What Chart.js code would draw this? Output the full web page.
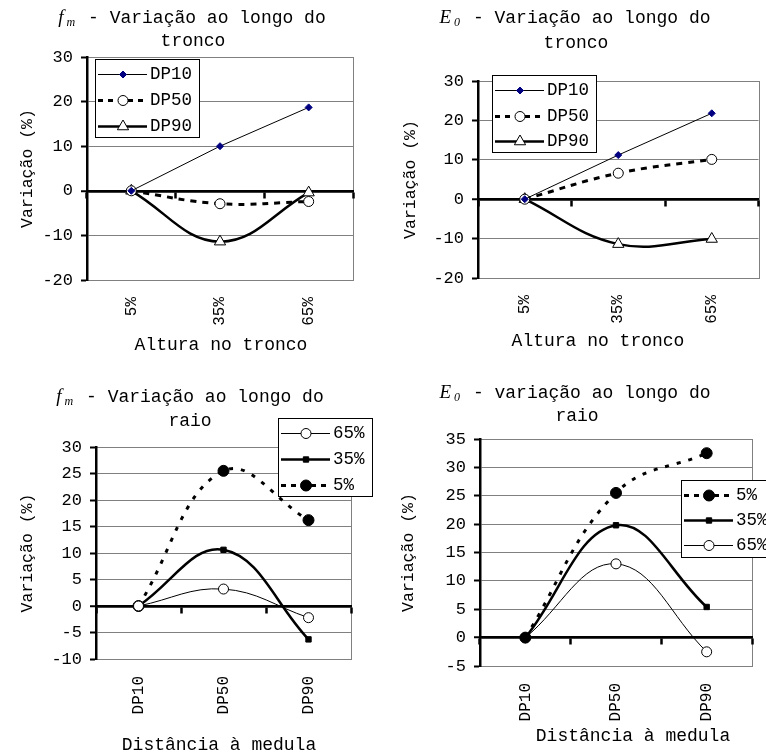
<!DOCTYPE html>
<html lang="pt">
<head>
<meta charset="utf-8">
<title>Variação ao longo do tronco e do raio</title>
<script src="https://cdn.jsdelivr.net/npm/chart.js@4.4.1/dist/chart.umd.min.js"></script>
<style>
  html, body { margin: 0; padding: 0; background: #fff; overflow: hidden; }
  body { position: relative; width: 766px; height: 754px; }
  canvas { position: absolute; }
  .txt { position: absolute; width: 300px; text-align: center; white-space: pre;
         font: 18px "Liberation Mono", monospace; line-height: 25px; color: #000; }
  .txt i { font-family: "Liberation Serif", serif; font-size: 19px; }
  .txt sub { font-family: "Liberation Serif", serif; font-style: italic; font-size: 12px;
             vertical-align: baseline; position: relative; top: 3px; margin: 0 2px 0 3px; }
</style>
</head>
<body>
<canvas id="fmTronco" width="383" height="370" style="left:0;top:0"></canvas>
<canvas id="e0Tronco" width="383" height="370" style="left:383px;top:0"></canvas>
<canvas id="fmRaio" width="383" height="384" style="left:0;top:370px"></canvas>
<canvas id="e0Raio" width="383" height="384" style="left:383px;top:370px"></canvas>

<div class="txt" style="left:42px;top:4px"><i>f</i><sub>m</sub> - Variação ao longo do</div>
<div class="txt" style="left:43px;top:29px">tronco</div>
<div class="txt" style="left:71px;top:333px">Altura no tronco</div>

<div class="txt" style="left:425px;top:4px"><i>E</i><sub>0</sub> - Variação ao longo do</div>
<div class="txt" style="left:426px;top:31px">tronco</div>
<div class="txt" style="left:448px;top:329px">Altura no tronco</div>

<div class="txt" style="left:40px;top:383px"><i>f</i><sub>m</sub> - Variação ao longo do</div>
<div class="txt" style="left:40px;top:409px">raio</div>
<div class="txt" style="left:69px;top:733px">Distância à medula</div>

<div class="txt" style="left:425px;top:379px"><i>E</i><sub>0</sub> - variação ao longo do</div>
<div class="txt" style="left:427px;top:404px">raio</div>
<div class="txt" style="left:483px;top:724px">Distância à medula</div>

<script>
// categorias
var alturas = ['5%', '35%', '65%'];
var distancias = ['DP10', 'DP50', 'DP90'];

// fm ao longo do tronco
var fmTroncoDP10 = [0, 10, 18.7];
var fmTroncoDP50 = [0, -2.9, -2.4];
var fmTroncoDP90 = [0, -11.4, -0.4];

// E0 ao longo do tronco
var e0TroncoDP10 = [0, 11.2, 21.8];
var e0TroncoDP50 = [0, 6.6, 10.1];
var e0TroncoDP90 = [0, -11.4, -10.1];

// fm ao longo do raio
var fmRaio65 = [0, 3.2, -2.2];
var fmRaio35 = [0, 10.6, -6.3];
var fmRaio5 = [0, 25.5, 16.2];

// E0 ao longo do raio
var e0Raio5 = [0, 25.5, 32.5];
var e0Raio35 = [0, 19.8, 5.4];
var e0Raio65 = [0, 13.0, -2.5];

// marcas do eixo y
var ticksTronco = [-20, -10, 0, 10, 20, 30];
var ticksFmRaio = [-10, -5, 0, 5, 10, 15, 20, 25, 30];
var ticksE0Raio = [-5, 0, 5, 10, 15, 20, 25, 30, 35];

Chart.defaults.font.family = '"Liberation Mono", "Courier New", monospace';
Chart.defaults.color = '#000';

var estilos = {
    losango: { borderColor: '#000', borderWidth: 1, tension: 0, pointStyle: 'rectRot', pointRadius: 3.5,
        pointBackgroundColor: '#000080', pointBorderColor: '#000080', pointBorderWidth: 1 },
    circuloTracejado: { borderColor: '#000', borderWidth: 3, borderDash: [6, 6], tension: 0.4, pointStyle: 'circle',
        pointRadius: 5, pointBackgroundColor: '#fff', pointBorderColor: '#000', pointBorderWidth: 1 },
    triangulo: { borderColor: '#000', borderWidth: 2.5, tension: 0.4, pointStyle: 'triangle', pointRadius: 6.5,
        pointBackgroundColor: '#fff', pointBorderColor: '#000', pointBorderWidth: 1 },
    pontoTracejado: { borderColor: '#000', borderWidth: 3, borderDash: [4, 8], tension: 0.4, pointStyle: 'circle',
        pointRadius: 5.5, pointBackgroundColor: '#000', pointBorderColor: '#000', pointBorderWidth: 1 },
    quadrado: { borderColor: '#000', borderWidth: 2.5, tension: 0.4, pointStyle: 'rect', pointRadius: 3.8,
        pointBackgroundColor: '#000', pointBorderColor: '#000', pointBorderWidth: 1 },
    circuloFino: { borderColor: '#000', borderWidth: 1, tension: 0.4, pointStyle: 'circle', pointRadius: 5,
        pointBackgroundColor: '#fff', pointBorderColor: '#000', pointBorderWidth: 1 }
};

function serie(label, data, estilo) {
    return Object.assign({ label: label, data: data }, estilos[estilo]);
}

// caixa cinzenta da área do gráfico
var moldura = {
    id: 'moldura',
    beforeDraw: function (chart) {
        var ctx = chart.ctx, a = chart.chartArea;
        ctx.save();
        ctx.strokeStyle = '#808080';
        ctx.lineWidth = 1;
        ctx.strokeRect(Math.round(a.left) + 0.5, Math.round(a.top) + 0.5,
            Math.round(a.right - a.left), Math.round(a.bottom - a.top));
        ctx.restore();
    }
};

// legenda em caixa, desenhada por cima das linhas
var caixaLegenda = {
    id: 'caixaLegenda',
    afterDatasetsDraw: function (chart, args, opts) {
        var ctx = chart.ctx;
        var x0 = Math.round(opts.left), y0 = Math.round(opts.top);
        ctx.save();
        ctx.fillStyle = '#fff';
        ctx.fillRect(x0, y0, opts.width, opts.height);
        ctx.strokeStyle = '#000';
        ctx.lineWidth = 1;
        ctx.strokeRect(x0 + 0.5, y0 + 0.5, opts.width, opts.height);
        chart.data.datasets.forEach(function (ds, i) {
            var y = Math.round(y0 + 15 + opts.gap * i) + 0.5;
            ctx.beginPath();
            ctx.setLineDash(ds.borderDash ? [5, 5] : []);
            ctx.lineWidth = ds.borderWidth;
            ctx.strokeStyle = ds.borderColor;
            ctx.moveTo(x0 + 3, y);
            ctx.lineTo(x0 + 52, y);
            ctx.stroke();
            ctx.setLineDash([]);
            ctx.fillStyle = ds.pointBackgroundColor;
            ctx.strokeStyle = ds.pointBorderColor;
            ctx.lineWidth = ds.pointBorderWidth;
            Chart.helpers.drawPoint(ctx, {
                pointStyle: ds.pointStyle, radius: ds.pointRadius,
                borderWidth: ds.pointBorderWidth, rotation: 0
            }, x0 + 28, y);
            ctx.fillStyle = '#000';
            ctx.font = '17.5px "Liberation Mono", monospace';
            ctx.textBaseline = 'middle';
            ctx.textAlign = 'left';
            ctx.fillText(ds.label, x0 + 55, y);
        });
        ctx.restore();
    }
};

function painel(id, labels, datasets, marcas, area, legenda) {
    var canvas = document.getElementById(id);
    var padEsq = area.tituloX - 13.9;
    return new Chart(canvas, {
        type: 'line',
        data: { labels: labels, datasets: datasets },
        options: {
            responsive: false,
            animation: false,
            layout: {
                padding: { left: padEsq, top: area.top, right: canvas.width - area.right, bottom: 0 }
            },
            plugins: {
                legend: { display: false },
                tooltip: { enabled: false },
                caixaLegenda: legenda
            },
            scales: {
                x: {
                    type: 'category',
                    offset: true,
                    grid: { display: false },
                    border: { display: false },
                    ticks: { autoSkip: false, maxRotation: 90, minRotation: 90, padding: 9, font: { size: 16 } },
                    afterFit: function (s) { s.height = canvas.height - area.bottom; }
                },
                x2: {
                    type: 'category',
                    position: { y: 0 },
                    offset: true,
                    grid: { offset: true, drawOnChartArea: false, tickLength: 6, tickWidth: 2.5, tickColor: '#000' },
                    border: { color: '#000', width: 2.5 },
                    ticks: { display: false }
                },
                y: {
                    min: marcas[0],
                    max: marcas[marcas.length - 1],
                    afterBuildTicks: function (s) {
                        s.ticks = marcas.map(function (v) { return { value: v }; });
                    },
                    ticks: { padding: 8, font: { size: 17 } },
                    grid: {
                        color: function (c) { return c.tick && c.tick.value === 0 ? '#000' : '#808080'; },
                        lineWidth: function (c) { return c.tick && c.tick.value === 0 ? 2.5 : 1; },
                        tickLength: 6, tickWidth: 2, tickColor: '#000'
                    },
                    border: { color: '#000', width: 2.5 },
                    title: { display: true, text: 'Variação (%)', font: { size: 16.5 } },
                    afterFit: function (s) { s.width = area.left - padEsq; }
                }
            }
        },
        plugins: [moldura, caixaLegenda]
    });
}

document.addEventListener('DOMContentLoaded', function () {
    painel('fmTronco', alturas, [
        serie('DP10', fmTroncoDP10, 'losango'),
        serie('DP50', fmTroncoDP50, 'circuloTracejado'),
        serie('DP90', fmTroncoDP90, 'triangulo')
    ], ticksTronco,
        { left: 87, top: 57, right: 353, bottom: 280, tituloX: 28 },
        { left: 95, top: 59, width: 104, height: 78, gap: 26 });

    painel('e0Tronco', alturas, [
        serie('DP10', e0TroncoDP10, 'losango'),
        serie('DP50', e0TroncoDP50, 'circuloTracejado'),
        serie('DP90', e0TroncoDP90, 'triangulo')
    ], ticksTronco,
        { left: 95, top: 81, right: 376, bottom: 278, tituloX: 28 },
        { left: 109, top: 75, width: 104, height: 77, gap: 25.5 });

    painel('fmRaio', distancias, [
        serie('65%', fmRaio65, 'circuloFino'),
        serie('35%', fmRaio35, 'quadrado'),
        serie('5%', fmRaio5, 'pontoTracejado')
    ], ticksFmRaio,
        { left: 96, top: 77, right: 351, bottom: 289, tituloX: 28 },
        { left: 278, top: 48, width: 94, height: 78, gap: 26 });

    painel('e0Raio', distancias, [
        serie('5%', e0Raio5, 'pontoTracejado'),
        serie('35%', e0Raio35, 'quadrado'),
        serie('65%', e0Raio65, 'circuloFino')
    ], ticksE0Raio,
        { left: 97, top: 69, right: 369, bottom: 296, tituloX: 26 },
        { left: 298, top: 110, width: 100, height: 77, gap: 25 });
});
</script>
</body>
</html>
